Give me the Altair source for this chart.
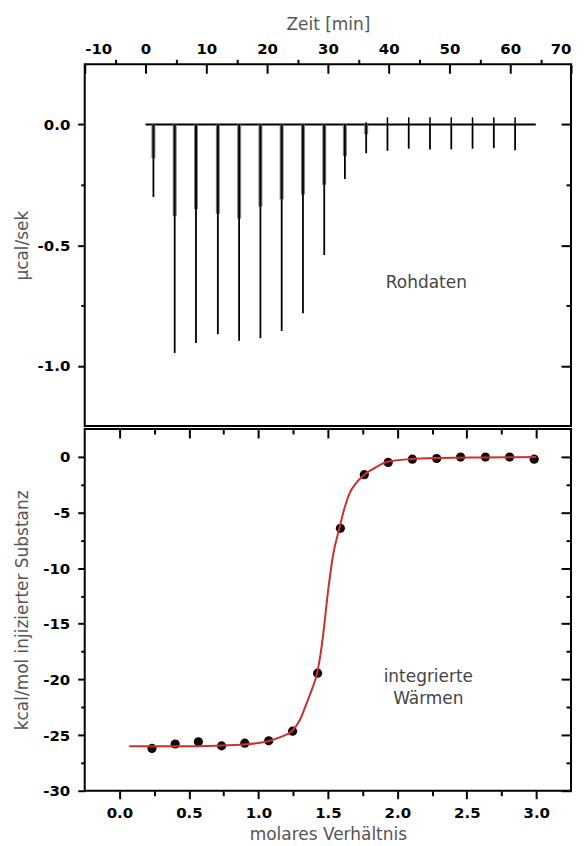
import altair as alt
import pandas as pd

# ---------------- data ----------------
# top panel: raw data (injection times in min, peak depths in µcal/sek)
inj_time = [1.3, 4.8, 8.3, 11.9, 15.4, 18.9, 22.4, 25.9, 29.4, 32.8,
            36.3, 39.8, 43.3, 46.8, 50.3, 53.8, 57.3, 60.8]
inj_depth = [-0.30, -0.947, -0.906, -0.869, -0.897, -0.886, -0.856, -0.782,
             -0.541, -0.226, -0.119, -0.109, -0.100, -0.103, -0.103, -0.100,
             -0.098, -0.107]
inj_gray = [-0.14, -0.38, -0.35, -0.37, -0.39, -0.34, -0.31, -0.29, -0.25,
            -0.13, -0.04, 0, 0, 0, 0, 0, 0, 0]
inj_blip = [0, 0, 0, 0, 0, 0, 0, 0, 0, 0, 0.01, 0.03, 0.03, 0.03, 0.03,
            0.03, 0.03, 0.03]
base_start = [0.0]
base_end = [64.2]

# bottom panel: integrated heats
ratio = [0.234, 0.401, 0.568, 0.735, 0.902, 1.074, 1.246, 1.426, 1.59,
         1.762, 1.934, 2.108, 2.283, 2.455, 2.634, 2.808, 2.985]
heat = [-26.2, -25.8, -25.6, -25.97, -25.73, -25.52, -24.65, -19.44, -6.42,
        -1.6, -0.5, -0.21, -0.15, -0.02, -0.02, -0.02, -0.21]
fit_x = [0.07, 0.4, 0.7, 0.9, 1.05, 1.153, 1.244, 1.30, 1.345, 1.385, 1.423,
         1.445, 1.464, 1.5, 1.535, 1.583, 1.62, 1.655, 1.70, 1.762, 1.85,
         1.929, 2.1, 2.3, 2.6, 3.0]
fit_y = [-26.0, -26.0, -25.95, -25.85, -25.6, -25.2, -24.6, -23.6, -22.2,
         -20.9, -19.4, -17.9, -16.2, -12.2, -9.0, -6.4, -4.6, -3.3, -2.4,
         -1.6, -0.9, -0.45, -0.2, -0.1, -0.05, -0.02]

# tick values
top_x_major = [-10, 0, 10, 20, 30, 40, 50, 60, 70]
top_x_minor = [-5, 5, 15, 25, 35, 45, 55, 65]
top_y_major = [0, -0.5, -1.0]
top_y_minor = [-0.25, -0.75]
bot_x_major = [0.0, 0.5, 1.0, 1.5, 2.0, 2.5, 3.0]
bot_x_minor = [0.25, 0.75, 1.25, 1.75, 2.25, 2.75]
bot_y_major = [0, -5, -10, -15, -20, -25, -30]
bot_y_minor = [-2.5, -7.5, -12.5, -17.5, -22.5, -27.5]

# ---------------- tables ----------------
spikes = pd.DataFrame({"t": inj_time, "depth": inj_depth, "gray": inj_gray,
                       "blip": inj_blip, "zero": [0.0] * len(inj_time)})
baseline = pd.DataFrame({"t0": base_start, "t1": base_end, "y": [0.0]})
raw_label = pd.DataFrame({"t": [46.2], "y": [-0.657], "txt": ["Rohdaten"]})
points = pd.DataFrame({"r": ratio, "h": heat})
fit = pd.DataFrame({"r": fit_x, "h": fit_y})
lab1 = pd.DataFrame({"r": [2.223], "h": [-19.8], "txt": ["integrierte"]})
lab2 = pd.DataFrame({"r": [2.223], "h": [-21.8], "txt": ["Wärmen"]})

W = 488
H = 363
TITLE_COLOR = "#555555"

XS_TOP = alt.Scale(domain=[-10, 70], nice=False, zero=False)
YS_TOP = alt.Scale(domain=[-1.25, 0.25], nice=False, zero=False)
XS_BOT = alt.Scale(domain=[-0.25, 3.25], nice=False, zero=False)
YS_BOT = alt.Scale(domain=[-30, 2.5], nice=False, zero=False)


def mirror(orient, values, size):
    return alt.Axis(orient=orient, values=values, tickSize=size, offset=-size,
                    labels=False, domain=False, title=None, grid=False)


def outer(orient, values, size):
    return alt.Axis(orient=orient, values=values, tickSize=size,
                    labels=False, domain=False, title=None, grid=False)


# ---------------- top panel ----------------
ax_top_x = alt.Axis(orient="top", values=top_x_major, tickSize=9, offset=-9,
                    domain=False, grid=False, labelExpr="'' + datum.value",
                    labelPadding=8, title="Zeit [min]", titlePadding=8)
ax_top_y = alt.Axis(orient="left", values=top_y_major, tickSize=7,
                    domain=False, grid=False,
                    labelExpr="datum.value == 0 ? '0.0' : (datum.value == -1 ? '-1.0' : '' + datum.value)",
                    labelPadding=8, title="µcal/sek", titlePadding=8,
                    minExtent=45, maxExtent=45)

base_layer = alt.Chart(baseline).mark_rule(color="black", strokeWidth=2).encode(
    x=alt.X("t0:Q", scale=XS_TOP, axis=ax_top_x),
    x2="t1:Q",
    y=alt.Y("y:Q", scale=YS_TOP, axis=ax_top_y),
)
gray_layer = alt.Chart(spikes).mark_rule(color="#7a7a7a", strokeWidth=4).encode(
    x=alt.X("t:Q", scale=XS_TOP, axis=outer("top", top_x_minor, 5)),
    y=alt.Y("zero:Q", scale=YS_TOP, axis=outer("left", top_y_minor, 4)),
    y2="gray:Q",
)
black_layer = alt.Chart(spikes).mark_rule(color="black", strokeWidth=1.8).encode(
    x=alt.X("t:Q", scale=XS_TOP, axis=None),
    y=alt.Y("zero:Q", scale=YS_TOP, axis=mirror("right", top_y_major, 10)),
    y2="depth:Q",
)
blip_layer = alt.Chart(spikes).mark_rule(color="black", strokeWidth=1.5).encode(
    x=alt.X("t:Q", scale=XS_TOP, axis=None),
    y=alt.Y("zero:Q", scale=YS_TOP, axis=mirror("right", top_y_minor, 5)),
    y2="blip:Q",
)
raw_text = alt.Chart(raw_label).mark_text(
    font="DejaVu Sans", fontSize=17, color="#444444", align="center",
    baseline="middle").encode(
    x=alt.X("t:Q", scale=XS_TOP, axis=None),
    y=alt.Y("y:Q", scale=YS_TOP, axis=None),
    text="txt:N",
)

top = alt.layer(base_layer, gray_layer, black_layer, blip_layer, raw_text).resolve_axis(
    x="independent", y="independent").properties(width=W, height=H)

# ---------------- bottom panel ----------------
ax_bot_x = alt.Axis(orient="bottom", values=bot_x_major, tickSize=8,
                    domain=False, grid=False, format=".1f", labelPadding=7,
                    title="molares Verhältnis", titlePadding=6)
ax_bot_y = alt.Axis(orient="left", values=bot_y_major, tickSize=7,
                    domain=False, grid=False, labelExpr="'' + datum.value",
                    labelPadding=8, title="kcal/mol injizierter Substanz",
                    titlePadding=8, minExtent=45, maxExtent=45)

pts_layer = alt.Chart(points).mark_circle(size=85, color="#140404", opacity=1).encode(
    x=alt.X("r:Q", scale=XS_BOT, axis=ax_bot_x),
    y=alt.Y("h:Q", scale=YS_BOT, axis=ax_bot_y),
)
fit_layer = alt.Chart(fit).mark_line(color="#cc2f2f", strokeWidth=2,
                                     interpolate="monotone").encode(
    x=alt.X("r:Q", scale=XS_BOT, axis=outer("bottom", bot_x_minor, 5)),
    y=alt.Y("h:Q", scale=YS_BOT, axis=outer("left", bot_y_minor, 4)),
)
t1_layer = alt.Chart(lab1).mark_text(
    font="DejaVu Sans", fontSize=17, color="#444444", align="center",
    baseline="middle").encode(
    x=alt.X("r:Q", scale=XS_BOT, axis=mirror("top", bot_x_major, 9)),
    y=alt.Y("h:Q", scale=YS_BOT, axis=mirror("right", bot_y_major, 10)),
    text="txt:N",
)
t2_layer = alt.Chart(lab2).mark_text(
    font="DejaVu Sans", fontSize=17, color="#444444", align="center",
    baseline="middle").encode(
    x=alt.X("r:Q", scale=XS_BOT, axis=mirror("top", bot_x_minor, 5)),
    y=alt.Y("h:Q", scale=YS_BOT, axis=mirror("right", bot_y_minor, 5)),
    text="txt:N",
)

bottom = alt.layer(pts_layer, fit_layer, t1_layer, t2_layer).resolve_axis(
    x="independent", y="independent").properties(width=W, height=H)

chart = alt.vconcat(top, bottom, spacing=0).configure(
    background="white"
).configure_view(
    stroke="black", strokeWidth=2
).configure_axis(
    tickColor="black", tickWidth=2, labelColor="black",
    labelFont="DejaVu Sans", labelFontWeight="bold", labelFontSize=15,
    titleFont="DejaVu Sans", titleFontWeight="normal", titleFontSize=17,
    titleColor=TITLE_COLOR, grid=False
)

chart.save("out.html", embed_options={"renderer": "svg", "actions": False})
